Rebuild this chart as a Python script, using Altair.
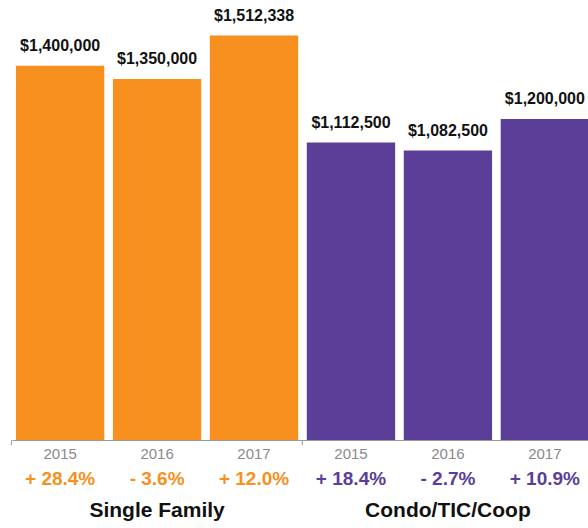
import altair as alt
import pandas as pd

groups = ["Single Family", "Single Family", "Single Family",
          "Condo/TIC/Coop", "Condo/TIC/Coop", "Condo/TIC/Coop"]
years = ["2015", "2016", "2017", "2015", "2016", "2017"]
prices = [1400000, 1350000, 1512338, 1112500, 1082500, 1200000]
changes = ["+ 28.4%", "- 3.6%", "+ 12.0%", "+ 18.4%", "- 2.7%", "+ 10.9%"]
group_names = ["Single Family", "Condo/TIC/Coop"]
group_colors = ["#F7901E", "#5A3E98"]

keys = [g + " " + y for g, y in zip(groups, years)]
df = pd.DataFrame({"key": keys, "group": groups, "year": years,
                   "price": prices, "change": changes})
gdf = pd.DataFrame({"group": group_names,
                    "mid": [keys[1], keys[4]],
                    "first": [keys[0], keys[3]]})

FONT = "Liberation Sans"
xscale = alt.Scale(domain=keys, range=[0, 581], paddingInner=0.089, paddingOuter=0.041)
x = alt.X("key:N", scale=xscale,
          axis=alt.Axis(title=None, labels=False, ticks=False, domain=True,
                        domainColor="#9a9a9a", domainWidth=1, grid=False))
color = alt.Color("group:N", scale=alt.Scale(domain=group_names, range=group_colors),
                  legend=None)
y = alt.Y("price:Q", scale=alt.Scale(domain=[0, 1645500], nice=False, zero=True),
          axis=None)

base = alt.Chart(df)
bars = base.mark_bar().encode(x=x, y=y, color=color)
vals = base.mark_text(font=FONT, fontSize=16, fontWeight="bold", color="#111",
                      baseline="alphabetic", dy=-15).encode(
    x=x, y=y, text=alt.Text("price:Q", format="$,.0f"))
yrs = base.mark_text(font=FONT, fontSize=15, color="#8a8a8a",
                     baseline="alphabetic").encode(
    x=x, y=alt.value(459), text="year:N")
pct = base.mark_text(font=FONT, fontSize=19, fontWeight="bold",
                     baseline="alphabetic").encode(
    x=x, y=alt.value(485), text="change:N", color=color)
gt = alt.Chart(gdf).mark_text(font=FONT, fontSize=21, fontWeight="bold",
                              color="#111", baseline="alphabetic").encode(
    x=alt.X("mid:N", scale=xscale), y=alt.value(517), text="group:N")
ticks = alt.Chart(gdf).mark_rule(color="#9a9a9a", xOffset=-4.5).encode(
    x=alt.X("first:N", scale=xscale, bandPosition=0),
    y=alt.value(440), y2=alt.value(445))

chart = alt.layer(bars, vals, yrs, pct, gt, ticks).properties(
    width=576, height=440,
    autosize=alt.AutoSizeParams(type="none"),
    padding={"left": 12, "top": 0, "right": 0, "bottom": 88},
).configure_view(stroke=None)

chart.save("out.html", embed_options={"renderer": "svg", "actions": False})
